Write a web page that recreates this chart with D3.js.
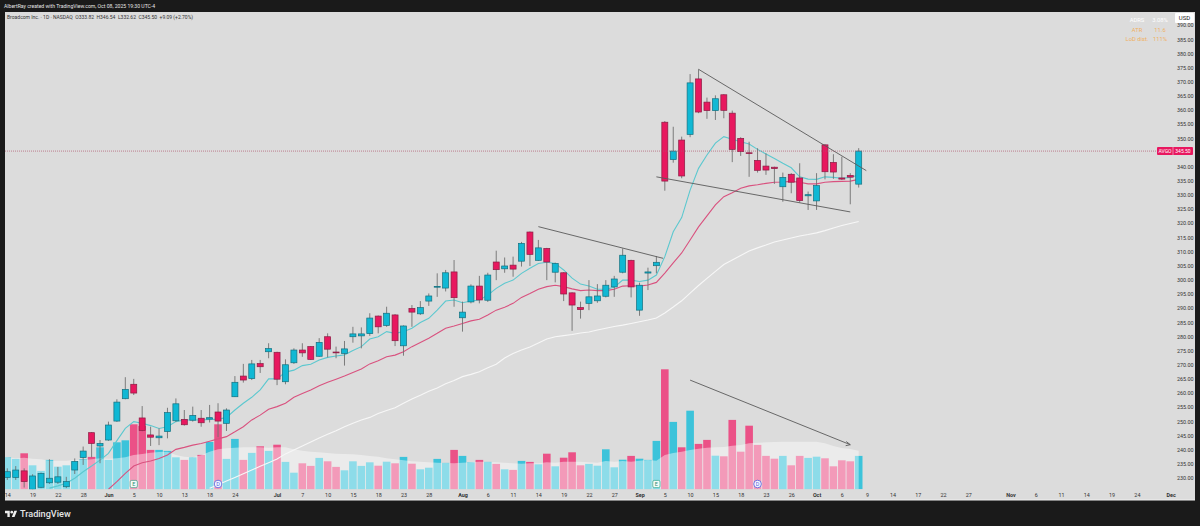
<!DOCTYPE html>
<html>
<head>
<meta charset="utf-8">
<script src="https://cdn.jsdelivr.net/npm/d3@7"></script>
<style>
html, body { margin: 0; padding: 0; background: #1a1a1a; }
svg { display: block; font-family: "Roboto", sans-serif; }
</style>
</head>
<body>
<div id="chart"></div>
<script>
const opens = [230.2,230.2,232.5,226.0,226.7,228.3,228.5,226.9,232.8,237.2,
246.0,241.3,243.4,250.1,258.0,263.1,251.2,245.2,244.2,246.4,
250.2,250.7,250.4,251.1,250.8,253.3,249.3,258.7,266.0,265.1,
270.4,274.6,274.4,264.0,270.7,275.2,276.4,273.0,279.9,274.5,
274.0,279.9,280.2,281.0,287.2,283.9,287.6,276.7,289.9,288.0,
292.5,297.4,297.1,302.8,286.6,292.2,297.8,292.8,306.3,303.9,
305.2,306.6,316.9,306.9,311.1,302.7,302.5,295.4,290.2,291.7,
292.6,294.2,297.5,302.7,306.9,289.3,302.4,305.0,355.7,342.5,
349.4,351.4,371.0,362.8,359.8,365.4,358.9,350.0,344.9,342.2,
340.2,339.8,332.9,337.3,336.0,329.7,327.9,347.7,341.5,336.0,336.9,333.82];
const highs = [233.4,234.2,233.4,231.3,231.9,236.6,233.9,230.4,236.9,241.1,
246.2,243.4,249.9,257.8,265.6,265.0,255.4,248.1,247.5,254.8,
258.1,254.0,255.2,254.0,255.8,256.4,254.6,266.0,270.3,271.7,
271.7,277.6,274.6,271.9,275.8,277.6,276.6,279.4,281.1,276.4,
278.4,283.4,283.2,288.2,287.4,290.5,287.9,283.9,291.1,292.5,
295.2,302.3,303.5,307.0,292.3,298.4,301.4,302.5,310.3,307.9,
308.2,313.4,317.1,314.1,311.3,306.1,302.7,295.6,292.3,299.9,
298.5,299.9,301.4,311.1,307.1,299.0,304.3,308.4,356.1,354.1,
350.6,372.7,374.4,364.4,365.2,365.6,359.8,350.4,348.8,346.5,
344.7,340.0,337.9,337.7,341.2,331.2,337.7,347.9,344.4,343.5,337.7,346.54];
const lows = [229.3,229.3,226.6,225.8,226.4,227.9,227.9,226.4,231.4,234.6,
237.3,235.2,243.1,249.8,257.8,259.3,246.5,241.3,241.6,244.0,
249.8,248.5,249.9,248.1,249.6,244.4,246.6,258.6,263.7,264.6,
267.1,272.3,262.8,263.1,270.3,272.8,271.7,272.8,272.6,272.3,
269.7,277.8,275.8,280.2,281.1,283.4,276.6,273.2,283.4,287.6,
290.8,294.0,295.9,290.5,281.7,291.7,291.7,292.2,299.9,302.5,
301.1,304.7,304.9,306.7,299.9,299.1,292.5,282.0,286.3,289.3,
291.9,293.8,294.0,302.3,293.8,287.3,296.4,302.3,331.5,341.4,
335.9,350.4,358.9,356.9,356.5,357.1,341.6,343.8,336.4,337.9,
337.1,333.9,327.6,330.6,327.3,324.7,324.7,335.5,335.7,335.3,326.7,332.62];
const closes = [232.2,232.8,228.7,230.7,231.6,229.9,230.4,228.7,235.8,239.5,
242.2,242.2,248.7,256.8,261.3,260.0,246.8,244.4,244.8,253.1,
256.2,248.8,252.1,249.5,251.3,250.1,254.0,263.8,264.6,270.3,
269.3,275.7,264.9,270.0,275.2,274.2,271.9,277.9,275.5,274.2,
275.6,280.9,280.9,286.5,283.4,288.2,278.5,283.7,288.6,290.2,
294.3,297.7,302.5,293.7,288.6,297.8,292.9,301.7,303.6,304.9,
303.8,312.9,309.0,311.3,306.3,305.8,295.0,291.1,289.5,294.0,
294.3,298.1,300.3,308.7,297.5,298.1,302.8,306.2,334.9,345.5,
336.7,369.6,359.3,359.8,364.0,359.9,346.1,345.3,344.6,338.7,
338.8,339.3,336.2,334.5,328.0,330.1,333.3,338.2,338.1,335.6,336.3,345.50];
const volumes = [16.0,15.2,18.0,12.0,9.2,14.7,11.3,12.0,14.0,15.0,
16.2,21.0,14.7,23.5,24.5,32.5,31.7,19.7,19.7,19.2,
16.0,14.7,16.0,17.2,23.7,32.5,15.2,25.2,14.7,18.2,
21.5,19.2,22.3,13.7,8.3,13.0,11.7,15.7,14.0,11.2,
9.5,14.0,11.7,13.5,11.8,13.8,13.0,16.2,12.8,10.0,
10.8,15.2,13.2,19.7,16.7,13.5,14.7,13.7,12.7,10.0,
9.7,14.2,13.7,12.5,17.8,11.5,15.8,18.5,12.0,12.7,
11.8,20.0,11.0,14.8,16.7,15.3,14.7,24.2,60.0,33.7,
21.0,39.3,22.7,24.7,16.8,16.5,34.7,18.8,31.8,22.2,
16.7,15.3,16.7,12.0,16.7,15.7,16.3,15.5,11.5,14.5,14.0,16.7];
// volume average, first value sits one bar left of the first candle
const volumeAvg = [16.3,16.0,15.5,15.8,15.3,15.0,14.3,14.3,14.3,14.7,14.7,
15.0,15.5,15.3,15.5,16.0,17.2,17.7,18.3,18.7,18.8,
17.2,16.3,16.0,17.0,18.8,20.0,20.5,20.8,21.0,21.0,
21.0,20.8,21.0,21.0,20.0,19.3,18.8,18.5,18.2,17.8,
17.7,17.5,17.2,16.7,16.3,15.5,15.0,14.5,14.0,13.8,
13.5,13.3,13.2,13.0,13.3,13.5,13.8,13.7,13.5,13.3,
13.0,12.8,13.0,13.0,13.5,13.3,13.8,13.8,13.8,13.5,
13.3,14.2,13.8,14.2,13.8,14.3,14.7,14.3,17.2,18.2,
18.8,19.7,20.3,20.8,21.0,21.2,21.8,22.2,23.0,23.3,
23.5,23.7,23.8,23.8,23.8,23.8,23.8,23.0,21.7,20.7,20.2,19.3];

const fastStart = 5;
const fastMa = [226.4,227.2,228.1,229.9,232.2,234.2,236.3,238.7,243.2,247.5,
249.9,249.3,248.5,247.5,248.1,249.9,250.5,250.5,250.5,250.7,
250.7,251.4,254.0,256.4,258.5,261.1,265.0,265.0,267.4,268.1,
269.7,270.2,271.7,272.6,273.1,273.5,275.0,276.4,279.1,279.9,
281.7,281.1,281.7,282.9,284.9,286.4,289.3,292.5,292.9,291.9,
292.5,292.9,294.6,297.0,298.8,299.9,302.3,304.1,305.8,306.2,
305.8,303.5,300.6,298.5,297.8,296.7,296.7,297.4,299.9,299.9,
299.4,299.9,301.7,308.2,317.0,322.0,331.7,339.4,344.1,348.3,
350.6,349.7,348.8,348.0,346.1,344.5,342.9,341.2,339.6,336.4,
335.6,335.5,336.4,336.2,335.9,336.2,337.1];
const midStart = 12;
const midMa = [226.0,228.7,231.6,234.2,235.4,236.0,236.9,238.1,240.1,240.8,
241.6,242.2,243.0,243.8,244.6,246.3,248.1,250.5,252.2,254.3,
255.2,256.4,258.5,259.8,261.1,262.6,263.8,264.9,266.0,267.3,
268.5,270.3,271.4,272.8,273.4,274.6,276.4,277.9,279.4,281.1,
282.9,283.7,284.6,285.5,286.1,287.6,289.3,290.3,291.7,293.8,
295.2,296.7,297.6,298.1,297.6,296.8,296.2,296.4,296.2,296.2,
296.7,297.8,297.9,297.8,298.2,299.1,302.4,306.0,309.5,314.1,
318.7,322.6,326.5,329.4,330.8,332.4,333.2,333.6,334.1,334.5,
334.6,334.8,334.5,333.9,333.9,334.5,334.7,334.8,334.9,335.5];
const slowStart = 24;
const slowMa = [226.4,227.6,228.9,230.2,231.5,232.8,234.1,235.4,236.7,238.5,
239.9,241.3,242.7,244.1,245.4,246.7,248.1,249.3,250.5,251.4,
252.8,253.8,254.8,256.4,257.9,259.2,260.6,261.8,263.3,264.4,
265.8,266.6,267.5,268.9,270.2,272.4,274.0,275.2,276.3,277.7,
279.1,279.9,280.3,280.7,281.2,281.6,282.3,282.9,283.5,284.0,
284.6,285.2,285.8,286.5,288.3,290.4,292.6,295.3,298.0,300.5,
303.0,305.4,307.0,308.6,310.2,311.3,312.3,313.4,314.1,314.8,
315.5,316.0,316.6,317.4,318.3,319.2,319.9,320.6];

// 345 is hidden behind the price tag
const priceTicks = d3.range(230, 395, 5).filter(d => d !== 345);
const dateTicks = [0,3,6,9,12,15,18,21,24,27,32,35,38,41,44,47,50,54,57,60,63,66,69,72,75,78,81,84,87,90,93,96,99,102,105,108,111,114,119,122,125,128,131,134,138];
const dateLabels = ["14","19","22","28","Jun","5","10","13","18","24","Jul","7","10","15","18","23","28","Aug","6","11","14","19","22","27","Sep","5","10","15","18","23","26","Oct","6","9","14","17","22","27","Nov","6","11","14","19","24","Dec"];
const monthLabels = ["Jun","Jul","Aug","Sep","Oct","Nov","Dec"];

// [bar, price] ends of the hand drawn lines
const trendLines = [
    [[63, 318.8], [77.8, 307.6]],
    [[82, 374.4], [101.9, 338.6]],
    [[77, 336.4], [100, 324.0]]
];
// [bar, volume]
const volumeArrow = [[81, 54.6], [100, 22.3]];
const eventBars = [15, 25, 77, 89];
const eventLabels = ["E", "D", "E", "D"];
const lastPrice = 345.50;

const width = 1200;
const height = 526;
const tealBody = "#10b8d4", tealLine = "#14707f", redBody = "#e8185f", redLine = "#8c1c44";

const svg = d3.select("#chart").append("svg").attr("width", width).attr("height", height);

svg.append("rect").attr("width", width).attr("height", height).attr("fill", "#1a1a1a");
svg.append("rect").attr("x", 5).attr("y", 12).attr("width", 1190).attr("height", 488).attr("fill", "#dcdcdc");
svg.append("rect").attr("x", 5).attr("y", 499.5).attr("width", 1190).attr("height", 1).attr("fill", "#efefef");

const x = d3.scaleLinear().domain([0, 101]).range([7.3, 858.7]);
const y = d3.scaleLinear().domain([230, 385]).range([477.95, 39.3]);
const yVol = d3.scaleLinear().domain([0, 60]).range([489.3, 369.3]);

svg.append("defs").append("clipPath").attr("id", "plot")
    .append("rect").attr("x", 5).attr("y", 12).attr("width", 1190).attr("height", 477.3);
const plot = svg.append("g").attr("clip-path", "url(#plot)");

// volume bars, the average area washes over them
const bars = d3.range(closes.length);
plot.selectAll(".vol").data(bars).join("rect")
    .attr("class", "vol")
    .attr("x", i => x(i) - 3.8)
    .attr("width", 7.6)
    .attr("y", i => yVol(volumes[i]))
    .attr("height", i => yVol(0) - yVol(volumes[i]))
    .attr("fill", i => closes[i] >= opens[i] ? "#3cc3da" : "#eb5187");

const avgArea = d3.area()
    .x((d, i) => x(i - 1))
    .y0(yVol(0))
    .y1(d => yVol(d));
plot.append("path").datum(volumeAvg)
    .attr("d", avgArea)
    .attr("fill", "#ffffff")
    .attr("fill-opacity", 0.42);

// moving averages
function drawMa(values, start, color) {
    const line = d3.line().x((d, i) => x(i + start)).y(d => y(d));
    plot.append("path").datum(values)
        .attr("d", line)
        .attr("fill", "none")
        .attr("stroke", color)
        .attr("stroke-width", 1.1);
}
drawMa(slowMa, slowStart, "#f7f7f7");
drawMa(midMa, midStart, "#d9527f");
drawMa(fastMa, fastStart, "#5cc8cf");

// candles
plot.selectAll(".wick").data(bars).join("line")
    .attr("class", "wick")
    .attr("x1", i => x(i)).attr("x2", i => x(i))
    .attr("y1", i => y(highs[i])).attr("y2", i => y(lows[i]))
    .attr("stroke", "#707070")
    .attr("stroke-width", 0.9);
plot.selectAll(".body").data(bars).join("rect")
    .attr("class", "body")
    .attr("x", i => x(i) - 3)
    .attr("width", 6)
    .attr("y", i => y(Math.max(opens[i], closes[i])))
    .attr("height", i => Math.max(0.8, Math.abs(y(opens[i]) - y(closes[i]))))
    .attr("fill", i => closes[i] >= opens[i] ? tealBody : redBody)
    .attr("stroke", i => closes[i] >= opens[i] ? tealLine : redLine)
    .attr("stroke-width", 0.7);

// drawn trend lines
const trendLine = d3.line().x(d => x(d[0])).y(d => y(d[1]));
plot.selectAll(".trend").data(trendLines).join("path")
    .attr("class", "trend")
    .attr("d", trendLine)
    .attr("fill", "none")
    .attr("stroke", "#5a5a5a")
    .attr("stroke-width", 0.9);

const arrowLine = d3.line().x(d => x(d[0])).y(d => yVol(d[1]));
plot.append("path").datum(volumeArrow)
    .attr("d", arrowLine)
    .attr("fill", "none")
    .attr("stroke", "#5a5a5a")
    .attr("stroke-width", 0.9);
const tip = [x(volumeArrow[1][0]), yVol(volumeArrow[1][1])];
plot.append("path")
    .attr("d", `M${tip[0] - 4},${tip[1] - 3.2}L${tip[0]},${tip[1]}L${tip[0] - 4.6},${tip[1] + 1}`)
    .attr("fill", "none")
    .attr("stroke", "#5a5a5a")
    .attr("stroke-width", 0.9);

// earnings and dividend marks
const marks = plot.selectAll(".mark").data(eventBars).join("g")
    .attr("class", "mark")
    .attr("transform", i => `translate(${x(i)},484)`);
marks.filter((d, i) => eventLabels[i] === "E").append("rect")
    .attr("x", -3.6).attr("y", -3.6).attr("width", 7.2).attr("height", 7.2).attr("rx", 1.5)
    .attr("fill", "#f4fbf8").attr("stroke", "#3aa88a").attr("stroke-width", 0.7);
marks.filter((d, i) => eventLabels[i] === "D").append("circle")
    .attr("r", 3.8)
    .attr("fill", "#f4f6ff").attr("stroke", "#4f5fe0").attr("stroke-width", 0.8);
marks.append("text")
    .attr("text-anchor", "middle").attr("y", 2)
    .attr("font-size", 5.5)
    .attr("fill", (d, i) => eventLabels[i] === "E" ? "#2f8f75" : "#4f5fe0")
    .text((d, i) => eventLabels[i]);

// last price line
svg.append("line")
    .attr("x1", 5).attr("x2", 1157)
    .attr("y1", y(lastPrice)).attr("y2", y(lastPrice))
    .attr("stroke", "#b0566f")
    .attr("stroke-width", 0.7)
    .attr("stroke-dasharray", "1 1");

// axes
const yAxis = d3.axisRight(y).tickValues(priceTicks).tickSize(0).tickPadding(0).tickFormat(d3.format(".2f"));
svg.append("g").attr("transform", "translate(1177,0)").call(yAxis)
    .call(g => g.select(".domain").remove())
    .call(g => g.selectAll("text").attr("font-size", 5.4).attr("fill", "#333").attr("font-family", "Roboto"));

const xAxis = d3.axisBottom(x).tickValues(dateTicks).tickSize(0).tickPadding(0)
    .tickFormat(d => dateLabels[dateTicks.indexOf(d)]);
svg.append("g").attr("transform", "translate(0,492.8)").call(xAxis)
    .call(g => g.select(".domain").remove())
    .call(g => g.selectAll("text")
        .attr("font-size", 5.4).attr("fill", "#333").attr("font-family", "Roboto")
        .attr("font-weight", (d, i) => monthLabels.includes(dateLabels[i]) ? 700 : 400));

// price tag
svg.append("rect").attr("x", 1157).attr("y", 147).attr("width", 36).attr("height", 8).attr("rx", 1).attr("fill", "#e8185f");
svg.append("line").attr("x1", 1173).attr("x2", 1173).attr("y1", 147).attr("y2", 155).attr("stroke", "#f4f4f4").attr("stroke-width", 0.5);
svg.append("text").attr("x", 1165).attr("y", 152.9).attr("text-anchor", "middle").attr("font-size", 5).attr("fill", "#fff").text("AVGO");
svg.append("text").attr("x", 1183).attr("y", 152.9).attr("text-anchor", "middle").attr("font-size", 5).attr("fill", "#fff").text(d3.format(".2f")(lastPrice));

svg.append("rect").attr("x", 1175).attr("y", 13).attr("width", 19).attr("height", 10).attr("rx", 1).attr("fill", "#ffffff");
svg.append("text").attr("x", 1184.5).attr("y", 20.3).attr("text-anchor", "middle").attr("font-size", 6).attr("fill", "#222").text("USD");

// header texts
svg.append("text").attr("x", 4).attr("y", 8).attr("font-size", 5.1).attr("fill", "#e6e6e6")
    .text("AlbertRay created with TradingView.com, Oct 08, 2025 19:30 UTC-4");
svg.append("text").attr("x", 7).attr("y", 19.2).attr("font-size", 5).attr("fill", "#333")
    .attr("xml:space", "preserve")
    .text("Broadcom Inc. \u00b7 1D \u00b7 NASDAQ  O333.82  H346.54  L332.62  C345.50  +9.09 (+2.70%)");

// stats table top right
const statNames = ["ADRS", "ATR", "LoD dist."];
const statValues = ["3.08%", "11.6", "111%"];
const statColors = ["#ffffff", "#f0b060", "#f0b060"];
statNames.forEach((name, i) => {
    svg.append("text").attr("x", 1137).attr("y", 22 + i * 9.6).attr("text-anchor", "middle")
        .attr("font-size", 5.8).attr("fill", statColors[i]).text(name);
    svg.append("text").attr("x", 1160).attr("y", 22 + i * 9.6).attr("text-anchor", "middle")
        .attr("font-size", 5.8).attr("fill", statColors[i]).text(statValues[i]);
});

// footer logo
const logo = svg.append("g").attr("transform", "translate(5,509.5) scale(0.34)").attr("fill", "#eeeeee");
logo.append("path").attr("d", "M14 22H7V11H0V4h14v18zM28 22h-8l7.5-18h8L28 22z");
logo.append("circle").attr("cx", 20).attr("cy", 8).attr("r", 4);
svg.append("text").attr("x", 20).attr("y", 516.5).attr("font-size", 9.1).attr("font-weight", 500)
    .attr("fill", "#e6e6e6").text("TradingView");
</script>
</body>
</html>
